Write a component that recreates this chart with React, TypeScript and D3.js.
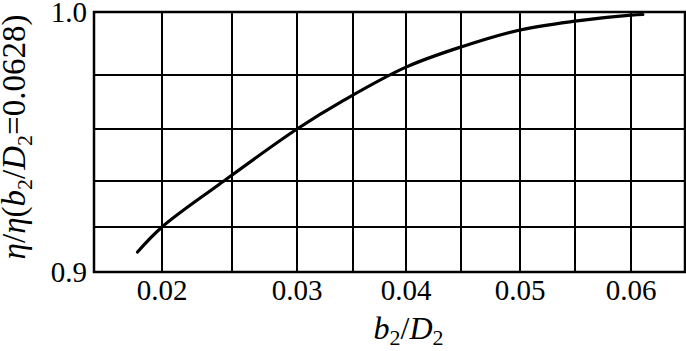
import React from "react";
import * as d3 from "d3";

// ---- data ----
const xGridValues = [0.015, 0.02, 0.025, 0.03, 0.035, 0.04, 0.045, 0.05, 0.055, 0.06, 0.065];
const yGridValues = [0.9, 0.92, 0.94, 0.96, 0.98, 1.0];
const xTickValues = [0.02, 0.03, 0.04, 0.05, 0.06];
const xTickLabels = ["0.02", "0.03", "0.04", "0.05", "0.06"];
const yTickValues = [0.9, 1.0];
const yTickLabels = ["0.9", "1.0"];
const curveX = [0.0182, 0.02, 0.0241, 0.03, 0.0342, 0.04, 0.045, 0.05, 0.055, 0.06, 0.0611];
const curveY = [0.9089, 0.92, 0.9386, 0.96, 0.9707, 0.9825, 0.9889, 0.9943, 0.9971, 0.999, 0.9992];

// ---- layout (the original figure's grid is hand-drawn, with uneven spacing) ----
const W = 686;
const H = 351;
const xStops = [94, 162, 232, 297, 353, 406, 461, 520, 575, 631, 685];
const yStops = [272, 227, 181, 129, 75, 12];
const FONT = "'Liberation Serif', 'DejaVu Serif', serif";

export default function App() {
  const x = d3.scaleLinear().domain(xGridValues).range(xStops);
  const y = d3.scaleLinear().domain(yGridValues).range(yStops);
  const pts: [number, number][] = curveX.map((v, i) => [v, curveY[i]]);
  const line = d3
    .line<[number, number]>()
    .x((d) => x(d[0]))
    .y((d) => y(d[1]))
    .curve(d3.curveCatmullRom.alpha(0.5));

  const x0 = x(xGridValues[0]);
  const x1 = x(xGridValues[xGridValues.length - 1]);
  const y0 = y(yGridValues[0]);
  const y1 = y(yGridValues[yGridValues.length - 1]);

  return (
    <svg
      width={W}
      height={H}
      style={{ position: "absolute", left: 0, top: 0, background: "#fff" }}
      fontFamily={FONT}
    >
      <rect x={0} y={0} width={W} height={H} fill="#fff" />
      {xGridValues.map((v) => (
        <line key={"gx" + v} x1={x(v)} x2={x(v)} y1={y1} y2={y0} stroke="#000" strokeWidth={2} />
      ))}
      {yGridValues.map((v) => (
        <line key={"gy" + v} x1={x0} x2={x1} y1={y(v)} y2={y(v)} stroke="#000" strokeWidth={2} />
      ))}
      <rect x={x0} y={y1} width={x1 - x0} height={y0 - y1} fill="none" stroke="#000" strokeWidth={2.5} />
      <path d={line(pts) || ""} fill="none" stroke="#000" strokeWidth={3.2} strokeLinecap="round" />
      {xTickValues.map((v, i) => (
        <text key={"xt" + v} x={x(v)} y={y0 + 28} textAnchor="middle" fontSize={29}>
          {xTickLabels[i]}
        </text>
      ))}
      {yTickValues.map((v, i) => (
        <text key={"yt" + v} x={x0 - 7} y={y(v) + 10} textAnchor="end" fontSize={29}>
          {yTickLabels[i]}
        </text>
      ))}
      <text x={(x0 + x1) / 2 + 19} y={339} textAnchor="middle" fontSize={32}>
        <tspan fontStyle="italic">b</tspan>
        <tspan fontSize={22} dy={6}>2</tspan>
        <tspan dy={-6}>/</tspan>
        <tspan fontStyle="italic">D</tspan>
        <tspan fontSize={22} dy={6}>2</tspan>
      </text>
      <text
        transform={`translate(25, ${137}) rotate(-90)`}
        textAnchor="middle"
        fontSize={33}
      >
        <tspan fontStyle="italic">η</tspan>
        <tspan>/</tspan>
        <tspan fontStyle="italic">η</tspan>
        <tspan>(</tspan>
        <tspan fontStyle="italic">b</tspan>
        <tspan fontSize={22} dy={7}>2</tspan>
        <tspan dy={-7}>/</tspan>
        <tspan fontStyle="italic">D</tspan>
        <tspan fontSize={22} dy={7}>2</tspan>
        <tspan dy={-7}>=0.0628)</tspan>
      </text>
    </svg>
  );
}
